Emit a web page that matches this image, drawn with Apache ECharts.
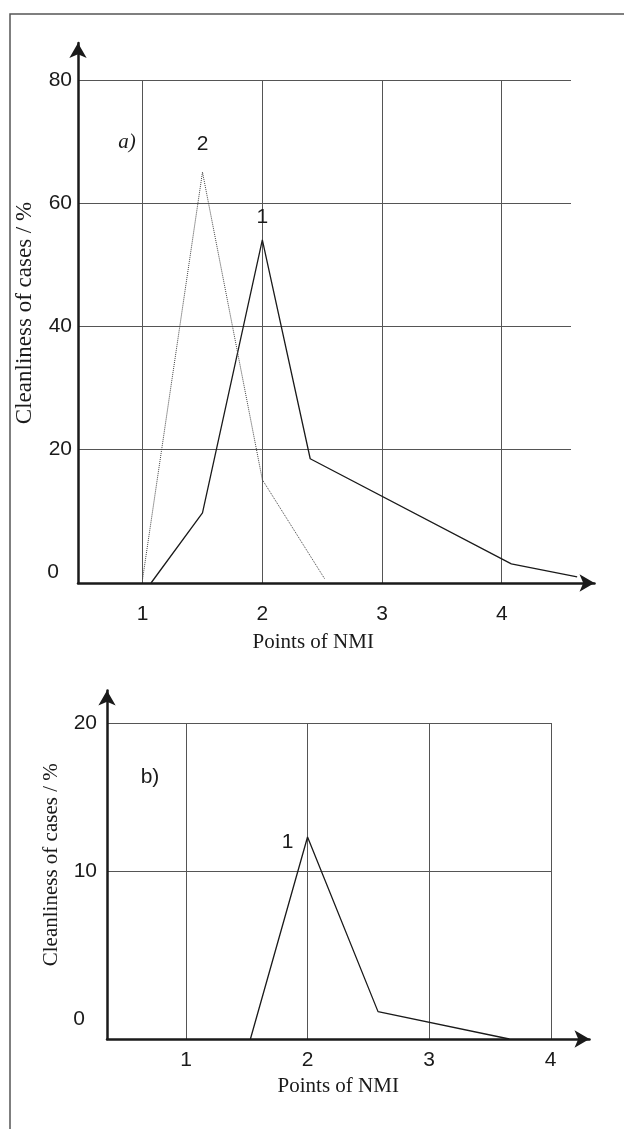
<!DOCTYPE html>
<html>
<head>
<meta charset="UTF-8">
<title>Cleanliness of cases vs points of NMI</title>
<script src="https://cdn.jsdelivr.net/npm/echarts@6.0.0/dist/echarts.min.js"></script>
<style>
  html, body { margin: 0; padding: 0; background: #fff; }
  #chart { width: 624px; height: 1129px; }
</style>
</head>
<body>
<div id="chart"></div>
<script>
// tick values
const xTicksA = [1, 2, 3, 4];
const yTicksA = [0, 20, 40, 60, 80];
const xTicksB = [1, 2, 3, 4];
const yTicksB = [0, 10, 20];

// panel a) : [points of NMI, cleanliness of cases %]
const curve1A = [[1.07, -1.8], [1.5, 9.6], [2, 54], [2.4, 18.4], [4.08, 1.3], [4.63, -0.8]];
const curve2A = [[1, -1.1], [1.5, 65], [2, 15], [2.52, -1.1]];
// panel b)
const curve1B = [[1.53, -1.35], [2, 12.3], [2.58, 0.5], [3.66, -1.35]];

const serif = 'Liberation Serif';
const sans = 'Liberation Sans';
const ink = '#1a1a1a';
const gridColor = '#555';

const chart = echarts.init(document.getElementById('chart'));

// grid lines only (hidden axes)
function gridAxis(min, max, ticks, gridIndex) {
    return {
        type: 'value', gridIndex: gridIndex, min: min, max: max,
        axisLine: { show: false },
        axisTick: { show: false, customValues: ticks },
        axisLabel: { show: false },
        splitLine: { show: true, lineStyle: { color: gridColor, width: 1 } }
    };
}
const zeroLabel = function (v) { return v === 0 ? '{z|0}' : String(v); };

// arrow axis with labels
function mainX(min, max, ticks, gridIndex, margin, nameGap, shift) {
    return {
        type: 'value', gridIndex: gridIndex, min: min, max: max,
        name: 'Points of NMI', nameLocation: 'middle', nameGap: nameGap,
        nameTextStyle: { fontFamily: serif, fontSize: 21, color: ink, padding: [0, shift, 0, 0] },
        axisLine: { show: true, onZero: false, symbol: ['none', 'arrow'], symbolSize: [13, 15],
            lineStyle: { color: ink, width: 2.5 } },
        axisTick: { show: false },
        axisLabel: { customValues: ticks, margin: margin, fontFamily: sans, fontSize: 21, color: ink },
        splitLine: { show: false }
    };
}
function mainY(min, max, ticks, gridIndex, margin, nameGap, nameSize, zeroPad) {
    return {
        type: 'value', gridIndex: gridIndex, min: min, max: max,
        name: 'Cleanliness of cases / %', nameLocation: 'middle', nameGap: nameGap,
        nameTextStyle: { fontFamily: serif, fontSize: nameSize, color: ink },
        axisLine: { show: true, onZero: false, symbol: ['none', 'arrow'], symbolSize: [13, 15],
            lineStyle: { color: ink, width: 2.5 } },
        axisTick: { show: false },
        axisLabel: { customValues: ticks, margin: margin, fontFamily: sans, fontSize: 21, color: ink,
            formatter: zeroLabel,
            rich: { z: { fontFamily: sans, fontSize: 21, color: ink, padding: [0, zeroPad, 0, 0] } } },
        splitLine: { show: false }
    };
}

// put a curve number above / beside its peak
function withPeakLabel(data, text, label) {
    let peak = 0;
    data.forEach(function (p, i) { if (p[1] > data[peak][1]) peak = i; });
    return data.map(function (p, i) {
        if (i !== peak) return p;
        return { value: p, label: Object.assign({ show: true, formatter: text,
            fontFamily: sans, fontSize: 21, color: ink }, label) };
    });
}

function curve(data, xi, yi, dotted) {
    return {
        type: 'line', xAxisIndex: xi, yAxisIndex: yi, data: data,
        symbol: 'circle', symbolSize: 0, silent: true, z: 5,
        itemStyle: { color: ink },
        lineStyle: dotted ? { color: '#444', width: 1, type: 'dotted' } : { color: ink, width: 1.3 }
    };
}

const option = {
    animation: false,
    backgroundColor: '#fff',
    grid: [
        { left: 78, top: 80, width: 493, height: 503, outerBoundsMode: 'none' },
        { left: 78, top: 43, width: 516.5, height: 540, outerBoundsMode: 'none' },
        { left: 107, top: 723, width: 444, height: 316, outerBoundsMode: 'none' },
        { left: 107, top: 690.5, width: 482.5, height: 348.5, outerBoundsMode: 'none' }
    ],
    xAxis: [
        gridAxis(0.46, 4.58, xTicksA, 0),
        mainX(0.46, 4.775, xTicksA, 1, 21, 49, 46),
        gridAxis(0.35, 4, xTicksB, 2),
        mainX(0.35, 4.32, xTicksB, 3, 11, 37, 20)
    ],
    yAxis: [
        gridAxis(-1.8, 80, yTicksA.slice(1), 0),
        mainY(-1.8, 86, yTicksA, 1, 6, 42, 23, 13),
        gridAxis(-1.35, 20, yTicksB.slice(1), 2),
        mainY(-1.35, 22.2, yTicksB, 3, 10, 43, 21, 12)
    ],
    series: [
        curve(withPeakLabel(curve1A, '1', { position: 'top', distance: 12 }), 1, 1, false),
        curve(withPeakLabel(curve2A, '2', { position: 'top', distance: 17 }), 1, 1, true),
        curve(withPeakLabel(curve1B, '1', { position: 'left', distance: 14, offset: [0, 5] }), 3, 3, false)
    ],
    graphic: [
        { type: 'rect', silent: true, shape: { x: 10, y: 14, width: 640, height: 1140 },
          style: { fill: 'none', stroke: '#555', lineWidth: 1.5 } },
        { type: 'text', silent: true, x: 127, y: 142,
          style: { text: 'a)', font: 'italic 21px "Liberation Serif"', fill: ink,
                   align: 'center', verticalAlign: 'middle', textAlign: 'center', textVerticalAlign: 'middle' } },
        { type: 'text', silent: true, x: 150, y: 777,
          style: { text: 'b)', font: '21px "Liberation Sans"', fill: ink,
                   align: 'center', verticalAlign: 'middle', textAlign: 'center', textVerticalAlign: 'middle' } }
    ]
};

chart.setOption(option);
</script>
</body>
</html>
